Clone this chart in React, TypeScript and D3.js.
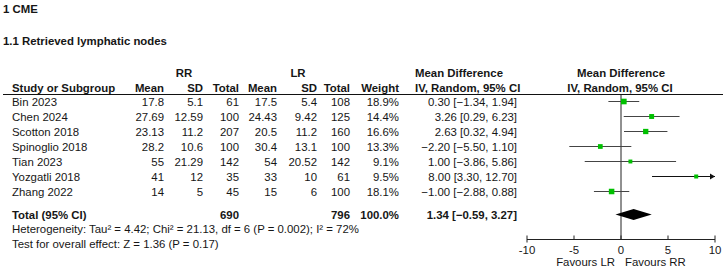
import React from "react";
import * as d3 from "d3";

const studies = ["Bin 2023", "Chen 2024", "Scotton 2018", "Spinoglio 2018", "Tian 2023", "Yozgatli 2018", "Zhang 2022"];
const rrMean = [17.8, 27.69, 23.13, 28.2, 55, 41, 14];
const rrSD = [5.1, 12.59, 11.2, 10.6, 21.29, 12, 5];
const rrTotal = [61, 100, 207, 100, 142, 35, 45];
const lrMean = [17.5, 24.43, 20.5, 30.4, 54, 33, 15];
const lrSD = [5.4, 9.42, 11.2, 13.1, 20.52, 10, 6];
const lrTotal = [108, 125, 160, 100, 142, 61, 100];
const weights = [18.9, 14.4, 16.6, 13.3, 9.1, 9.5, 18.1];
const md = [0.3, 3.26, 2.63, -2.2, 1.0, 8.0, -1.0];
const ciLo = [-1.34, 0.29, 0.32, -5.5, -3.86, 3.3, -2.88];
const ciHi = [1.94, 6.23, 4.94, 1.1, 5.86, 12.7, 0.88];
const totalRR = 690;
const totalLR = 796;
const pooled = { md: 1.34, lo: -0.59, hi: 3.27 };
const axisTicks = [-10, -5, 0, 5, 10];
const heterogeneity = "Heterogeneity: Tau² = 4.42; Chi² = 21.13, df = 6 (P = 0.002); I² = 72%";
const overall = "Test for overall effect: Z = 1.36 (P = 0.17)";

const FONT = "'Liberation Sans', Arial, sans-serif";

export default function App() {
  const W = 727, H = 270;
  const x = d3.scaleLinear().domain([-10, 10]).range([527, 715]);
  const rowY = (i: number) => 105.5 + i * 15;
  const sq = d3.scaleSqrt().domain([0, 20]).range([0, 5.8]);
  const fs = 11.4;
  const t = (s: string | number, xx: number, yy: number, anchor = "end", bold = false, key?: string) => (
    <text key={key} x={xx} y={yy} textAnchor={anchor as any} fontWeight={bold ? "bold" : "normal"}>{s}</text>
  );
  const fmt2 = d3.format(".2f");
  const lineY = 94.5;
  const axisY = 239.5;
  const totY = 218.5;
  const C = { m1: 164, s1: 203, t1: 239, m2: 277, s2: 317, t2: 350, w: 399, ci: 517 };
  return (
    <svg width={W} height={H} style={{ position: "absolute", left: 0, top: 0, background: "#fff" }}>
      <rect width={W} height={H} fill="#fff" />
      <g fontFamily={FONT} fontSize={fs} fill="#161616">
        {t("1 CME", 3, 13, "start", true)}
        {t("1.1 Retrieved lymphatic nodes", 3, 45, "start", true)}
        {t("RR", 184, 77, "middle", true)}
        {t("LR", 298, 77, "middle", true)}
        {t("Mean Difference", 415, 77, "start", true)}
        {t("Mean Difference", 621, 77, "middle", true)}
        {t("Study or Subgroup", 12, 91.5, "start", true)}
        {t("Mean", C.m1, 91.5, "end", true)}
        {t("SD", C.s1, 91.5, "end", true)}
        {t("Total", C.t1, 91.5, "end", true)}
        {t("Mean", C.m2, 91.5, "end", true)}
        {t("SD", C.s2, 91.5, "end", true)}
        {t("Total", C.t2, 91.5, "end", true)}
        {t("Weight", C.w, 91.5, "end", true)}
        {t("IV, Random, 95% CI", 415, 91.5, "start", true)}
        {t("IV, Random, 95% CI", 620, 91.5, "middle", true)}
        {studies.map((s, i) => (
          <g key={s}>
            {t(s, 12, rowY(i), "start")}
            {t(rrMean[i], C.m1, rowY(i))}
            {t(rrSD[i], C.s1, rowY(i))}
            {t(rrTotal[i], C.t1, rowY(i))}
            {t(lrMean[i], C.m2, rowY(i))}
            {t(lrSD[i], C.s2, rowY(i))}
            {t(lrTotal[i], C.t2, rowY(i))}
            {t(weights[i].toFixed(1) + "%", C.w, rowY(i))}
            {t(`${fmt2(md[i])} [${fmt2(ciLo[i])}, ${fmt2(ciHi[i])}]`, C.ci, rowY(i))}
          </g>
        ))}
        {t("Total (95% CI)", 12, totY, "start", true)}
        {t(totalRR, C.t1, totY, "end", true)}
        {t(totalLR, C.t2, totY, "end", true)}
        {t("100.0%", C.w, totY, "end", true)}
        {t(`${fmt2(pooled.md)} [${fmt2(pooled.lo)}, ${fmt2(pooled.hi)}]`, C.ci, totY, "end", true)}
        {t(heterogeneity, 12, 232.5, "start")}
        {t(overall, 12, 247.5, "start")}
        {axisTicks.map((v) => t(v, x(v), 254, "middle", false, "tk" + v))}
        {t("Favours LR", 615, 266, "end")}
        {t("Favours RR", 625, 266, "start")}
      </g>
      <line x1={3} x2={723} y1={lineY} y2={lineY} stroke="#111" strokeWidth={1} />
      <line x1={x(0)} x2={x(0)} y1={lineY} y2={axisY} stroke="#222" strokeWidth={1} />
      <line x1={x(-10)} x2={x(10)} y1={axisY} y2={axisY} stroke="#222" strokeWidth={1} />
      {axisTicks.map((v) => (
        <line key={v} x1={x(v)} x2={x(v)} y1={axisY - 4} y2={Math.abs(v) === 10 ? axisY + 3 : axisY} stroke="#222" />
      ))}
      {studies.map((s, i) => {
        const y = rowY(i) - 4;
        const hi = Math.min(ciHi[i], 10);
        const arrow = ciHi[i] > 10;
        const size = sq(weights[i]);
        return (
          <g key={"f" + s}>
            <line x1={x(Math.max(ciLo[i], -10))} x2={x(hi)} y1={y} y2={y} stroke={arrow ? "#111" : "#444"} strokeWidth={1} />
            {arrow && <path d={`M${x(10)},${y} l-5,-3 v6 z`} fill="#111" />}
            <rect x={x(md[i]) - size / 2} y={y - size / 2} width={size} height={size} fill="#00c000" />
          </g>
        );
      })}
      <path
        d={`M${x(pooled.lo)},${totY - 4} L${x(pooled.md)},${totY - 9.5} L${x(pooled.hi)},${totY - 4} L${x(pooled.md)},${totY + 1.5} Z`}
        fill="#000"
      />
    </svg>
  );
}
